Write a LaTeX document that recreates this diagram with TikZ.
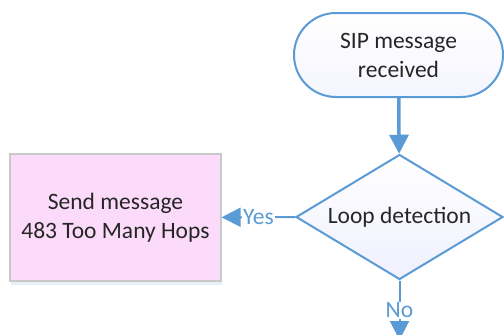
\documentclass[tikz,border=0pt]{standalone}
\usepackage{fontspec}
\setmainfont{Carlito}
\usepackage{tikz}
\usetikzlibrary{arrows.meta,shapes,shadows}
\definecolor{flowblue}{HTML}{5B9BD5}
\definecolor{boxpink}{HTML}{FCDAF9}
\definecolor{boxgray}{HTML}{C9C9C9}

\begin{document}
\begin{tikzpicture}[x=1bp,y=-1bp,font=\fontsize{23.5bp}{29bp}\selectfont,
  flow/.style={draw=flowblue,line width=2bp,-{Triangle[width=19bp,length=19bp]}}]
\useasboundingbox (0,0) rectangle (504,334);

\node (start) at (398.5,55)[draw=flowblue,line width=2bp,rounded rectangle,top color=white,bottom color=blue!4,minimum width=209bp,minimum height=84bp,inner sep=0bp,align=center,text=black!85] {SIP message\\received};
\node (loop) at (399.5,217)[draw=flowblue,line width=2bp,diamond,aspect=1.656,top color=white,bottom color=blue!6,minimum width=207bp,minimum height=125bp,inner sep=0bp,text=black!85] {Loop detection};
\node (hops) at (115.5,217.5)[draw=boxgray,line width=1.2bp,fill=boxpink,minimum width=211bp,minimum height=127bp,align=center,text=black!85,drop shadow={shadow xshift=1bp,shadow yshift=-4bp,fill=flowblue!30,opacity=0.5}] {Send message\\483 Too Many Hops};
\coordinate (next) at (399.5,340);

\draw [flow,line width=3.5bp] (start) to (loop);
\draw [flow] (loop) to node[fill=white,inner sep=1bp,text=flowblue] {Yes} (hops);
\draw [flow] (loop) to node[fill=white,inner sep=1bp,text=flowblue] {No} (next);
\end{tikzpicture}
\end{document}
